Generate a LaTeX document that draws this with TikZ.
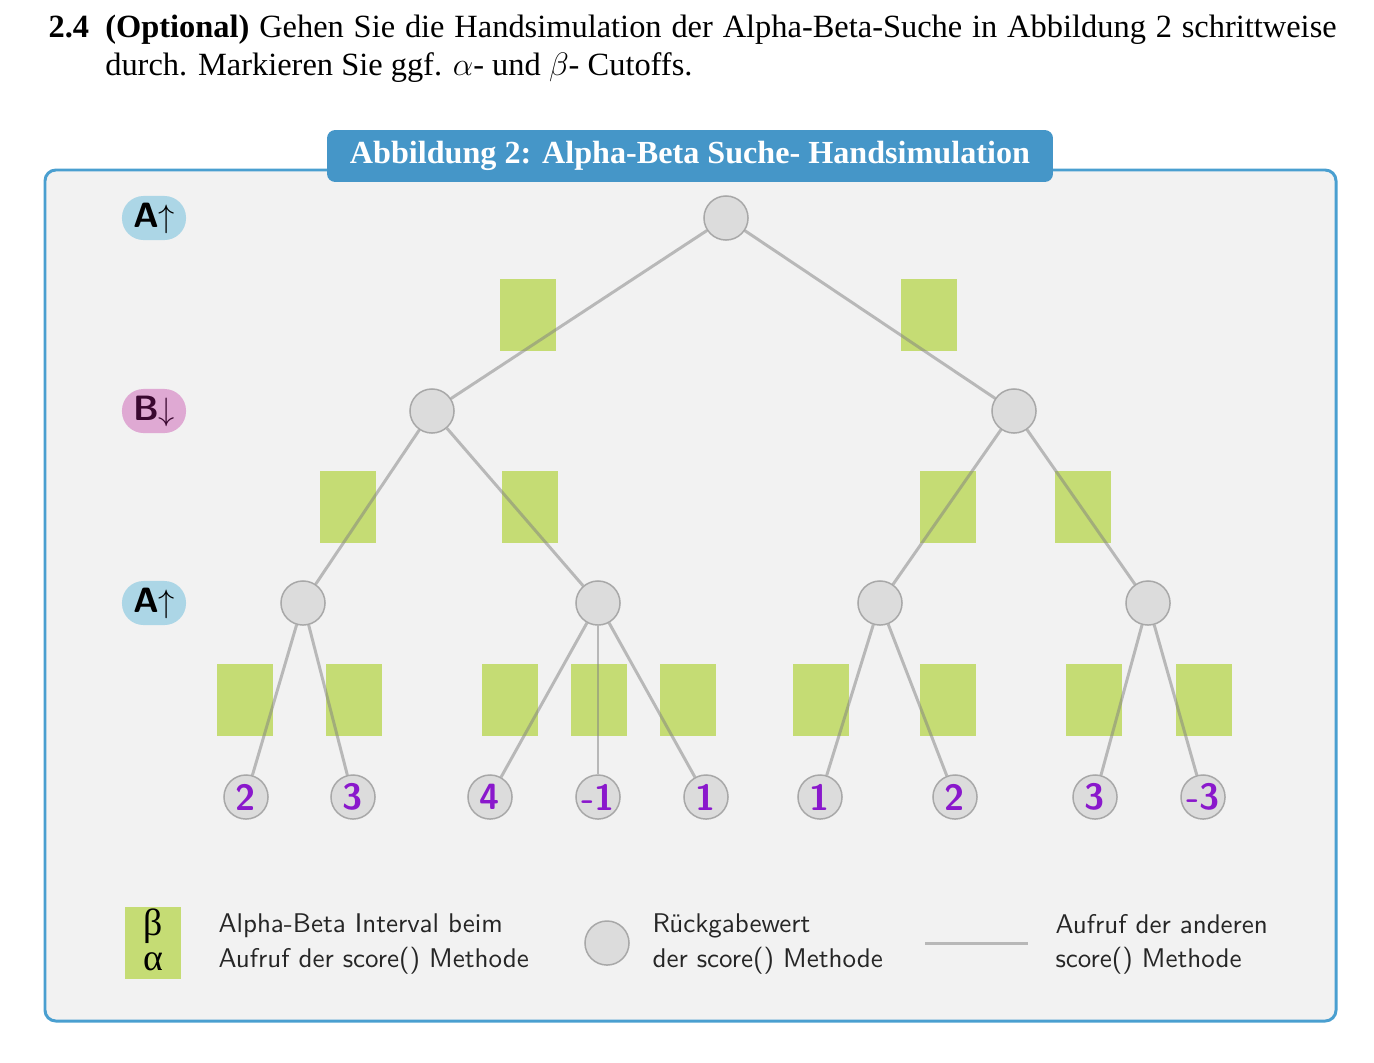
\documentclass[tikz,border=0pt]{standalone}
\usepackage{fontspec}
\setmainfont{Liberation Serif}
\usetikzlibrary{positioning}

\definecolor{panel}{HTML}{F2F2F2}
\definecolor{frameblue}{HTML}{4A9FD0}
\definecolor{tabblue}{HTML}{4596C8}
\definecolor{ivgreen}{HTML}{C5DC74}
\definecolor{nodegray}{HTML}{DCDCDC}
\definecolor{rimgray}{HTML}{A8A8A8}
\definecolor{leafpurple}{HTML}{8A18CC}
\definecolor{maxblue}{HTML}{ACD6E6}
\definecolor{minpink}{HTML}{DFA9D3}
\definecolor{minink}{HTML}{3A0830}

\tikzset{
  val/.style={circle, draw=rimgray, fill=nodegray, line width=0.55pt,
    minimum size=16.3pt, inner sep=0pt, text=leafpurple,
    font=\sffamily\bfseries\fontsize{13.5}{13.5}\selectfont},
  iv/.style={rectangle, fill=ivgreen, minimum width=20.7pt,
    minimum height=26.6pt, inner sep=0pt},
  call/.style={draw=black!50, draw opacity=0.5, line width=1.1pt},
  lvl/.style={rectangle, rounded corners=8pt, minimum width=23.7pt,
    minimum height=16.3pt, inner sep=0pt,
    font=\sffamily\bfseries\fontsize{13}{13}\selectfont},
  keytext/.style={anchor=west, align=left, inner sep=0pt,
    font=\sffamily\fontsize{10}{12.6}\selectfont, text=black!85}
}

\begin{document}
\begin{tikzpicture}[x=0.37pt, y=-0.37pt]
  \useasboundingbox (0,0) rectangle (1374,1062);

  % task text
  \node[anchor=base west, text width=476.6pt, align=justify, inner sep=0pt,
    font=\fontsize{12}{14.4}\selectfont] (task) at (48,37)
    {\leavevmode\hangindent=21pt\hangafter=1
     \makebox[21pt][l]{\textbf{2.4}}\textbf{(Optional)} Gehen Sie die
     Handsimulation der Alpha-Beta-Suche in Abbildung 2
     schrittweise\linebreak durch. Markieren Sie ggf. $\alpha$- und
     $\beta$- Cutoffs.\par};

  % panel
  \draw[draw=frameblue, fill=panel, line width=1.1pt, rounded corners=4pt]
    (45,170) rectangle (1336,1021);
  \node[fill=tabblue, text=white, rounded corners=3pt, minimum width=268.6pt,
    minimum height=19.2pt, inner sep=0pt,
    font=\bfseries\fontsize{11.9}{12}\selectfont] (title) at (690,156)
    {Abbildung 2: Alpha-Beta Suche- Handsimulation};

  % level labels
  \node[lvl, fill=maxblue] (lvl1) at (154,218) {A$\uparrow$};
  \node[lvl, fill=minpink, text=minink] (lvl2) at (154,411) {B$\downarrow$};
  \node[lvl, fill=maxblue] (lvl3) at (154,603) {A$\uparrow$};

  % intervals
  \node[iv] (iv11) at (528,315) {};
  \node[iv] (iv12) at (929,315) {};
  \node[iv] (iv21) at (348,507) {};
  \node[iv] (iv22) at (530,507) {};
  \node[iv] (iv23) at (948,507) {};
  \node[iv] (iv24) at (1083,507) {};
  \node[iv] (iv31) at (245,700) {};
  \node[iv] (iv32) at (354,700) {};
  \node[iv] (iv33) at (510,700) {};
  \node[iv] (iv34) at (599,700) {};
  \node[iv] (iv35) at (688,700) {};
  \node[iv] (iv36) at (821,700) {};
  \node[iv] (iv37) at (948,700) {};
  \node[iv] (iv38) at (1094,700) {};
  \node[iv] (iv39) at (1204,700) {};

  % tree
  \node[val] (root) at (726,218) {};
  \node[val] (b1) at (432,411) {};
  \node[val] (b2) at (1014,411) {};
  \node[val] (a1) at (303,603) {};
  \node[val] (a2) at (598,603) {};
  \node[val] (a3) at (880,603) {};
  \node[val] (a4) at (1148,603) {};
  \node[val] (l1) at (246,797) {2};
  \node[val] (l2) at (353,797) {3};
  \node[val] (l3) at (490,797) {4};
  \node[val] (l4) at (598,797) {-1};
  \node[val] (l5) at (706,797) {1};
  \node[val] (l6) at (820,797) {1};
  \node[val] (l7) at (955,797) {2};
  \node[val] (l8) at (1095,797) {3};
  \node[val] (l9) at (1203,797) {-3};

  \begin{scope}[call]
    \draw (root) to (b1);
    \draw (root) to (b2);
    \draw (b1) to (a1);
    \draw (b1) to (a2);
    \draw (b2) to (a3);
    \draw (b2) to (a4);
    \draw (a1) to (l1);
    \draw (a1) to (l2);
    \draw (a2) to (l3);
    \draw (a2) to (l4);
    \draw (a2) to (l5);
    \draw (a3) to (l6);
    \draw (a3) to (l7);
    \draw (a4) to (l8);
    \draw (a4) to (l9);
  \end{scope}

  % legend
  \node[iv] (keyiv) at (153,943) {};
  \node[inner sep=0pt, font=\fontsize{14}{14}\selectfont] (keybeta)
    at (153,926) {β};
  \node[inner sep=0pt, font=\fontsize{14}{14}\selectfont] (keyalpha)
    at (153,962) {α};
  \node[keytext] (keyivtext) at (218,944)
    {Alpha-Beta Interval beim\\Aufruf der score() Methode};
  \node[val] (keyval) at (607,943) {};
  \node[keytext] (keyvaltext) at (652,944)
    {Rückgabewert\\der score() Methode};
  \coordinate (keya) at (925,943);
  \coordinate (keyb) at (1028,943);
  \draw[call] (keya) -- (keyb);
  \node[keytext] (keycalltext) at (1055,944)
    {Aufruf der anderen\\score() Methode};
\end{tikzpicture}
\end{document}
